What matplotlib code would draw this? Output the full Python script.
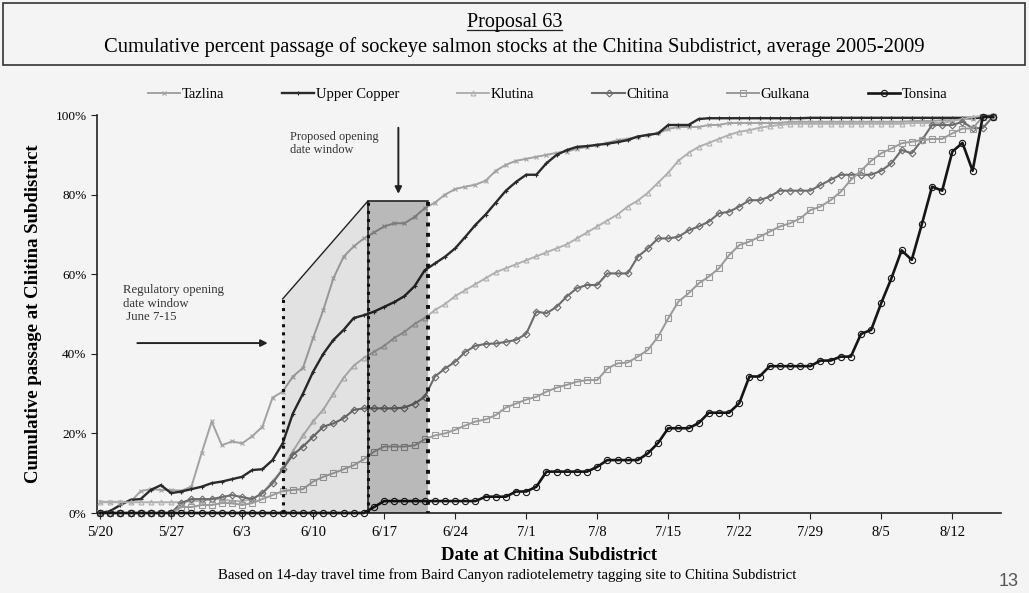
import numpy as np
import pandas as pd
import matplotlib
matplotlib.use("Agg")
import matplotlib.pyplot as plt
import matplotlib.dates as mdates
from matplotlib.lines import Line2D
from matplotlib.patches import Rectangle

# daily values, 5/20 .. 8/16 (cumulative percent)
tazlina = [2.8, 2.8, 2.8, 2.8, 5.5, 6, 5.8, 5.8, 5.6, 6.6,
           15, 23, 17, 18, 17.5, 19.3, 21.7, 29, 30.5, 34.3,
           36.5, 44, 51, 59, 64.4, 67, 69, 70.5, 72, 72.8,
           72.8, 74.4, 76.6, 78, 80, 81.4, 82, 82.5, 83.5, 86,
           87.5, 88.5, 89, 89.5, 90, 90.5, 90.8, 91.5, 92, 92.5,
           93, 93.7, 94, 94.6, 95, 95.4, 96.5, 97, 97, 97,
           97.5, 97.5, 98, 98, 98, 98, 98, 98, 98.3, 98.3,
           98.3, 98.3, 98.3, 98.3, 98.3, 98.3, 98.3, 98.3, 98.3, 98.3,
           98.5, 98.5, 98.5, 98.7, 98.7, 99, 99, 99.5, 100]
upper_copper = [0, 0.5, 2, 3.3, 3.5, 5.8, 7, 5, 5.4, 6,
                6.6, 7.5, 7.9, 8.5, 9.1, 10.8, 11, 13.3, 17.5, 25,
                30, 35.5, 40, 43.5, 46, 49, 49.7, 50.6, 51.8, 53,
                54.5, 57, 61, 62.7, 64.4, 66.5, 69.4, 72.4, 75, 78,
                81, 83.2, 85, 85, 87.9, 90, 91.2, 92, 92.2, 92.5,
                92.8, 93.2, 93.7, 94.6, 95, 95.4, 97.5, 97.5, 97.5, 99,
                99.2, 99.2, 99.2, 99.2, 99.2, 99.2, 99.2, 99.2, 99.2, 99.2,
                99.3, 99.3, 99.3, 99.3, 99.3, 99.3, 99.3, 99.3, 99.3, 99.3,
                99.3, 99.3, 99.3, 99.3, 99.3, 99.3, 99.3, 99.3, 99.6]
klutina = [2.7, 2.7, 2.7, 2.7, 2.7, 2.7, 2.7, 2.7, 2.7, 3,
           3, 3.5, 3.5, 3, 3, 3.5, 5, 8, 11, 15.5,
           19.5, 23, 26, 30, 34, 37, 39, 40.5, 42, 44,
           45.5, 47.5, 49, 51, 52.5, 54.5, 56, 57.5, 59, 60.5,
           61.5, 62.5, 63.5, 64.5, 65.5, 66.5, 67.5, 69, 70.5, 72,
           73.5, 75, 77, 78.5, 80.5, 83, 85.5, 88.5, 90.5, 92,
           93, 94, 95, 95.8, 96.2, 96.8, 97.2, 97.5, 97.8, 97.8,
           97.8, 97.8, 97.8, 97.8, 97.8, 97.8, 97.8, 97.8, 97.8, 97.8,
           98, 98, 98, 98, 98.5, 99, 99.5, 99.8, 100]
chitina = [0, 0, 0, 0, 0, 0, 0, 0, 2.5, 3.5,
           3.5, 3.5, 4, 4.5, 4, 3.5, 5, 7.5, 11, 14.6,
           16.7, 19.2, 21.7, 22.5, 23.8, 25.9, 26.3, 26.3, 26.3, 26.3,
           26.5, 27.5, 29.2, 34.3, 36.3, 38, 40.5, 42, 42.5, 42.6,
           43, 43.5, 45, 50.6, 50.2, 51.8, 54.4, 56.5, 57.3, 57.3,
           60.2, 60.2, 60.2, 64.4, 66.5, 69, 69, 69.4, 71, 72,
           73.2, 75.3, 75.7, 77, 78.6, 78.6, 79.5, 81, 81, 81,
           81, 82.4, 83.7, 85, 85, 85, 85, 86, 87.9, 91.2,
           90.4, 93.7, 97.5, 97.5, 97.5, 98.3, 96.7, 96.7, 99.6]
gulkana = [0, 0, 0, 0, 0, 0, 0, 0, 1.5, 1.5,
           2, 2, 2.5, 2.5, 2, 2.5, 3.5, 4.5, 5.5, 5.8,
           6, 7.9, 9.1, 10, 11, 12, 13.5, 15.4, 16.7, 16.7,
           16.7, 17, 18.5, 19.5, 20, 20.9, 22, 23, 23.5, 24.6,
           26.5, 27.5, 28.5, 29.2, 30.5, 31.5, 32.2, 33, 33.4, 33.4,
           36.3, 37.6, 37.8, 39.3, 41, 44.3, 48.9, 53.1, 55.2, 57.7,
           59.4, 61.5, 64.8, 67.3, 68.2, 69.4, 70.7, 72, 72.8, 74,
           76.1, 77, 78.6, 80.7, 83.7, 86, 88.5, 90.4, 91.6, 92.9,
           93.3, 93.7, 94, 94, 95.4, 96.6, 96.6, 99.6, 99.6]
tonsina = [0] * 27 + [1.5] + [3] * 10 + [4.1] * 3 + [5.4, 5.4, 6.6] + \
          [10.4] * 5 + [11.6] + [13.3] * 4 + [15, 17.6] + [21.3] * 3 + [22.6] + \
          [25.2] * 3 + [27.6, 34.3, 34.3] + [36.9] * 5 + [38.3, 38.3, 39.3, 39.3] + \
          [45, 46, 52.8, 59, 66, 63.6, 72.6, 82, 81, 90.8, 93, 86, 99.6, 99.6]

dates = pd.date_range("2009-05-20", periods=len(tazlina), freq="D")

plt.rcParams['font.family'] = ['Liberation Serif', 'DejaVu Serif']

fig = plt.figure(figsize=(10.29, 5.93), dpi=100, facecolor='#f4f4f4')
ax = fig.add_axes([0.0943, 0.1349, 0.8785, 0.6711])
ax.set_facecolor('#f4f4f4')

start = mdates.date2num(dates[0])
reg_start = start + 18
prop_start = start + 26.4
prop_end = start + 32.3

# regulatory window (light) and proposed window (dark), drawn over the lines as tint
ax.fill([reg_start, reg_start, prop_start, prop_start], [0, 53.8, 78.4, 0],
        color='black', alpha=0.07, zorder=5, lw=0)
ax.plot([reg_start, prop_start], [53.8, 78.4], color='#222', lw=1, zorder=6)
ax.plot([reg_start, reg_start], [0, 53.8], color='#111', lw=2.2, ls=':', zorder=6)
ax.add_patch(Rectangle((prop_start, 0), prop_end - prop_start, 78.4,
                       facecolor='black', alpha=0.24, edgecolor='none', zorder=5))
ax.plot([prop_start, prop_start, prop_end], [0, 78.4, 78.4], color='#222', lw=1.2, zorder=6)
ax.plot([prop_start, prop_start], [0, 78.4], color='#111', lw=2.2, ls=':', zorder=6)
ax.plot([prop_end, prop_end], [-0.5, 78.4], color='#111', lw=2.8, ls=':', zorder=6)

series = [
    ("Tazlina", tazlina, '#a2a2a2', 'x', 1.4),
    ("Upper Copper", upper_copper, '#2a2a2a', '+', 1.7),
    ("Klutina", klutina, '#b0b0b0', '^', 1.4),
    ("Chitina", chitina, '#6c6c6c', 'D', 1.5),
    ("Gulkana", gulkana, '#9a9a9a', 's', 1.4),
    ("Tonsina", tonsina, '#151515', 'o', 1.9),
]
handles = []
for name, vals, col, mk, lw in series:
    ms = 4.5 if mk in ('o', 's') else 3.5
    h, = ax.plot(dates, vals, color=col, lw=lw, marker=mk, ms=ms,
                 mfc='none', mec=col, mew=0.8, clip_on=False, zorder=4, label=name)
    handles.append(h)

ax.set_ylim(0, 100)
ax.set_xlim(start - 0.3, start + 88.8)
ax.set_yticks(range(0, 101, 20))
ax.set_yticklabels([f"{v}%" for v in range(0, 101, 20)], fontsize=9.5)
ticks = dates[::7]
ax.set_xticks(ticks)
ax.set_xticklabels([f"{d.month}/{d.day}" for d in ticks], fontsize=10.5)
ax.tick_params(axis='both', direction='out', length=4, color='#222')
ax.tick_params(axis='x', pad=5)
for s in ('top', 'right'):
    ax.spines[s].set_visible(False)
for s in ('left', 'bottom'):
    ax.spines[s].set_color('#222')
    ax.spines[s].set_linewidth(1.2)

ax.set_ylabel("Cumulative passage at Chitina Subdistrict", fontsize=13.5,
              fontweight='bold', labelpad=10)
ax.set_xlabel("Date at Chitina Subdistrict", fontsize=13.5, fontweight='bold', labelpad=6)
fig.text(0.493, 0.03, "Based on 14-day travel time from Baird Canyon radiotelemetry "
         "tagging site to Chitina Subdistrict", ha='center', va='center', fontsize=10.6)
fig.text(0.99, 0.005, "13", ha='right', va='bottom', fontsize=13, color='#555',
         family=['Liberation Sans', 'DejaVu Sans'])

# annotations
ax.text(start + 2.3, 57.5, "Regulatory opening\ndate window\n June 7-15",
        fontsize=9.2, color='#333', va='top', ha='left', linespacing=1.15)
ax.annotate("", xy=(start + 16.8, 42.7), xytext=(start + 3.4, 42.7),
            arrowprops=dict(arrowstyle='-|>', color='#222', lw=1.4, mutation_scale=10))
ax.text(start + 18.7, 96, "Proposed opening\ndate window",
        fontsize=8.8, color='#333', va='top', ha='left', linespacing=1.15)
ax.annotate("", xy=(start + 29.4, 79.5), xytext=(start + 29.4, 97.5),
            arrowprops=dict(arrowstyle='-|>', color='#222', lw=1.4, mutation_scale=10))

fig.legend(handles=handles, loc='center', bbox_to_anchor=(0.532, 0.84), ncol=6,
           frameon=False, fontsize=10.5, handlelength=2.2, handletextpad=0.1,
           columnspacing=4.0)

# title box
fig.add_artist(Rectangle((0.003, 0.89), 0.993, 0.105, transform=fig.transFigure,
                         facecolor='none', edgecolor='#333', lw=1.2))
t1 = fig.text(0.5, 0.962, "Proposal 63", ha='center', va='center', fontsize=14.5)
fig.text(0.5, 0.921, "Cumulative percent passage of sockeye salmon stocks at the "
         "Chitina Subdistrict, average 2005-2009", ha='center', va='center', fontsize=14.8)
fig.canvas.draw()
bb = t1.get_window_extent().transformed(fig.transFigure.inverted())
fig.add_artist(Line2D([bb.x0, bb.x1], [bb.y0 + 0.003, bb.y0 + 0.003],
                      transform=fig.transFigure, color='#222', lw=0.9))

fig.savefig("out.png", dpi=100, facecolor=fig.get_facecolor())
